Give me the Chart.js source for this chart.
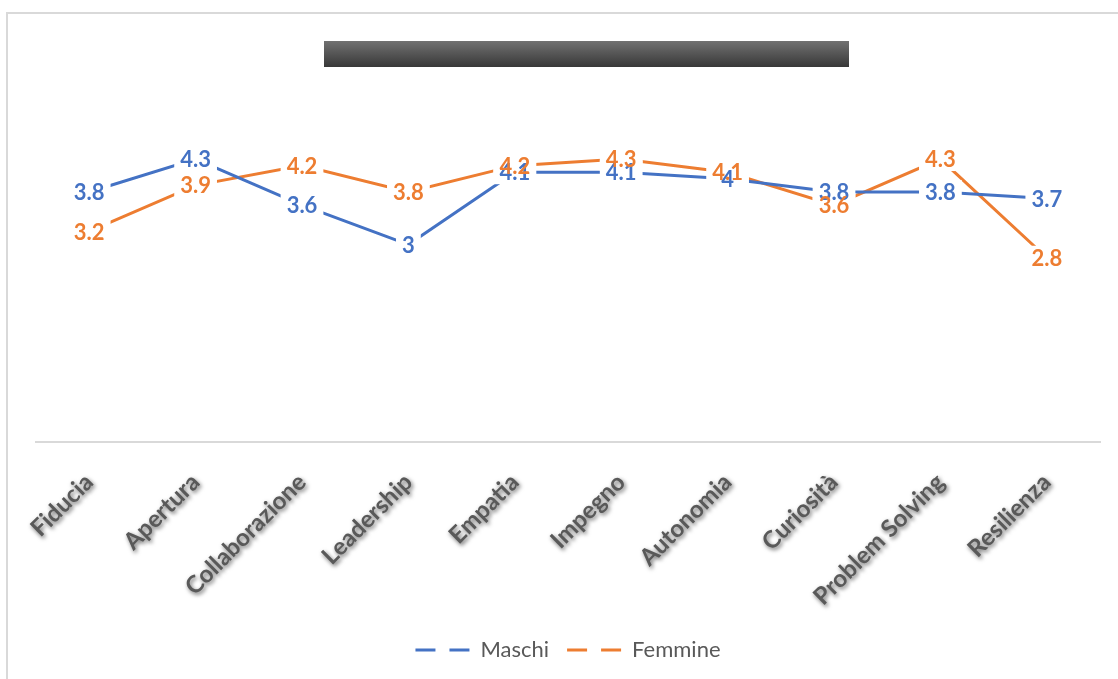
<!DOCTYPE html>
<html lang="it">
<head>
<meta charset="utf-8">
<title>Maschi / Femmine</title>
<script src="https://cdn.jsdelivr.net/npm/chart.js@4.4.1/dist/chart.umd.min.js"></script>
<style>
  html, body { margin: 0; padding: 0; background: #ffffff; overflow: hidden; }
  #frame {
    position: absolute; left: 6px; top: 12px; width: 1200px; height: 700px;
    border-left: 2px solid #d9d9d9; border-top: 2px solid #d9d9d9;
  }
  #wrap { position: absolute; left: 0; top: 0; width: 1118px; height: 679px; }
</style>
</head>
<body>
<div id="frame"></div>
<div id="wrap"><canvas id="chart"></canvas></div>
<script>
// Competenze valutate
const categories = ['Fiducia', 'Apertura', 'Collaborazione', 'Leadership', 'Empatia',
  'Impegno', 'Autonomia', 'Curiosità', 'Problem Solving', 'Resilienza'];
const maschi  = [3.8, 4.3, 3.6, 3.0, 4.1, 4.1, 4.0, 3.8, 3.8, 3.7];
const femmine = [3.2, 3.9, 4.2, 3.8, 4.2, 4.3, 4.1, 3.6, 4.3, 2.8];

const BLUE = '#4472C4';
const ORANGE = '#ED7D31';
const GREY_TEXT = '#595959';
const FONT = 'Lato, "Open Sans", sans-serif';

// Dark gradient header bar above the plot
const headerBar = {
  id: 'headerBar',
  beforeDraw(chart) {
    const ctx = chart.ctx;
    const x0 = 324, x1 = 849, y0 = 41, y1 = 67;
    const g = ctx.createLinearGradient(0, y0, 0, y1);
    g.addColorStop(0, '#717171');
    g.addColorStop(1, '#383838');
    ctx.save();
    ctx.fillStyle = g;
    ctx.fillRect(x0, y0, x1 - x0, y1 - y0);
    ctx.restore();
  }
};

// Soft drop shadow behind the category labels
const tickShadow = {
  id: 'tickShadow',
  beforeDraw(chart) {
    const xs = chart.scales.x;
    if (!xs || xs._shadowWrapped) return;
    const orig = xs.drawLabels.bind(xs);
    xs.drawLabels = function (area) {
      const ctx = chart.ctx;
      ctx.save();
      ctx.shadowColor = 'rgba(0,0,0,0.6)';
      ctx.shadowBlur = 4;
      ctx.shadowOffsetX = 1.5;
      ctx.shadowOffsetY = 2;
      orig(area);
      ctx.restore();
    };
    xs._shadowWrapped = true;
  }
};

// Value labels centred on each point, knocking out the line behind them
const valueLabels = {
  id: 'valueLabels',
  afterDatasetsDraw(chart) {
    const ctx = chart.ctx;
    ctx.save();
    ctx.font = 'bold 22px ' + FONT;
    ctx.textAlign = 'center';
    ctx.textBaseline = 'middle';
    const items = [];
    chart.data.datasets.forEach((ds, di) => {
      const meta = chart.getDatasetMeta(di);
      meta.data.forEach((pt, i) => {
        const txt = String(ds.data[i]);
        items.push({ x: pt.x, y: pt.y, txt, color: ds.borderColor, w: ctx.measureText(txt).width });
      });
    });
    ctx.fillStyle = '#ffffff';
    items.forEach(it => ctx.fillRect(it.x - it.w / 2 - 6, it.y - 12, it.w + 12, 24));
    items.forEach(it => { ctx.fillStyle = it.color; ctx.fillText(it.txt, it.x, it.y + 1); });
    ctx.restore();
  }
};

new Chart(document.getElementById('chart'), {
  type: 'line',
  data: {
    labels: categories,
    datasets: [
      { label: 'Maschi', data: maschi, borderColor: BLUE, backgroundColor: BLUE,
        borderWidth: 3, pointRadius: 0, pointHoverRadius: 0, tension: 0 },
      { label: 'Femmine', data: femmine, borderColor: ORANGE, backgroundColor: ORANGE,
        borderWidth: 3, pointRadius: 0, pointHoverRadius: 0, tension: 0 }
    ]
  },
  options: {
    responsive: true,
    maintainAspectRatio: false,
    animation: false,
    events: [],
    layout: { padding: { left: 36, right: 18, top: 113, bottom: 8 } },
    scales: {
      y: { display: false, min: 0, max: 5 },
      x: {
        offset: true,
        grid: { display: false, drawTicks: false },
        border: { display: true, color: '#d9d9d9', width: 2 },
        ticks: {
          color: GREY_TEXT,
          font: { family: FONT, size: 24, weight: 'bold' },
          minRotation: 45, maxRotation: 45, padding: 26, autoSkip: false
        },
        afterFit(scale) { scale.height = 179; }
      }
    },
    plugins: {
      tooltip: { enabled: false },
      title: { display: false },
      legend: {
        position: 'bottom',
        labels: {
          color: GREY_TEXT,
          font: { family: FONT, size: 22 },
          usePointStyle: true,
          pointStyleWidth: 54,
          boxWidth: 54,
          padding: 18,
          generateLabels(chart) {
            return chart.data.datasets.map((ds, i) => ({
              text: ds.label,
              strokeStyle: ds.borderColor,
              fillStyle: ds.borderColor,
              lineWidth: 3,
              lineDash: [20, 14],
              pointStyle: 'line',
              fontColor: GREY_TEXT,
              datasetIndex: i,
              hidden: false
            }));
          }
        }
      }
    }
  },
  plugins: [headerBar, tickShadow, valueLabels]
});
</script>
</body>
</html>
